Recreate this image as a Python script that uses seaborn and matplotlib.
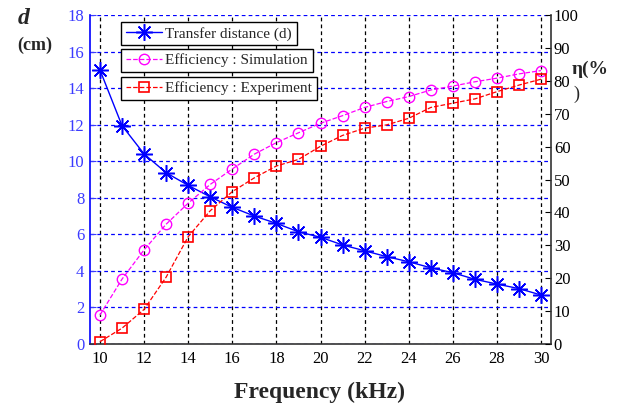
import pandas as pd
import seaborn as sns
import matplotlib.pyplot as plt

# data
freq = list(range(10, 31))
distance = [15.0, 11.95, 10.4, 9.37, 8.68, 8.05, 7.48, 7.0, 6.6, 6.14, 5.84,
            5.42, 5.1, 4.78, 4.5, 4.17, 3.9, 3.54, 3.28, 3.03, 2.68]
eff_sim = [8.8, 19.7, 28.6, 36.4, 42.8, 48.5, 53.2, 57.7, 61.2, 64.2, 67.1,
           69.4, 71.9, 73.7, 75.2, 77.2, 78.4, 79.7, 80.8, 82.1, 83.1]
eff_exp = [0.7, 4.8, 10.5, 20.3, 32.6, 40.5, 46.3, 50.5, 54.1, 56.1, 60.1,
           63.4, 65.6, 66.6, 68.6, 71.9, 73.2, 74.5, 76.7, 78.7, 80.5]
labels = ["Transfer distance (d)", "Efficiency : Simulation", "Efficiency : Experiment"]

df = pd.DataFrame({"freq": freq, "distance": distance, "sim": eff_sim, "exp": eff_exp})

sns.set_style("white")
plt.rcParams['font.family'] = ['Liberation Serif', 'DejaVu Serif']

fig = plt.figure(figsize=(6.23, 4.05), dpi=100)
ax = fig.add_axes([90 / 623, 61 / 405, 461 / 623, 329 / 405])
ax2 = ax.twinx()

blue = '#0000ff'
tick_blue = '#3b3bff'

sns.lineplot(data=df, x="freq", y="distance", ax=ax, color=blue, linewidth=1.0,
             marker=(8, 2, 0), markersize=12, markeredgewidth=1.1,
             markeredgecolor=blue, legend=False)
sns.lineplot(data=df, x="freq", y="sim", ax=ax2, color='#ff00ff', linewidth=0.9,
             linestyle='--', marker='o', markersize=7.5, markerfacecolor='none',
             markeredgecolor='#ff00ff', markeredgewidth=1.0, legend=False)
sns.lineplot(data=df, x="freq", y="exp", ax=ax2, color='#ff0000', linewidth=0.9,
             linestyle='--', marker='s', markersize=7.5, markerfacecolor='none',
             markeredgecolor='#ff0000', markeredgewidth=1.2, legend=False)

ax.set_xlim(9.55, 30.45)
ax.set_ylim(0, 18)
ax2.set_ylim(0, 100)
ax.set_xticks(range(10, 31, 2))
ax.set_yticks(range(0, 19, 2))
ax2.set_yticks(range(0, 101, 10))
ax.set_xlabel('')
ax.set_ylabel('')
ax2.set_ylabel('')

ax.set_axisbelow(True)
ax.grid(axis='y', color=blue, linestyle=(0, (3, 2.5)), linewidth=0.9)
ax.grid(axis='x', color='black', linestyle=(0, (3, 2.5)), linewidth=0.9)

ax.tick_params(axis='y', colors=tick_blue, direction='in', labelsize=12, length=4, pad=4)
ax.tick_params(axis='x', colors='black', direction='in', labelsize=12, length=4, pad=5)
ax2.tick_params(axis='y', colors='black', direction='in', labelsize=12, length=4, pad=2)

for s in ['top', 'right']:
    ax.spines[s].set_visible(False)
for s in ['top', 'left', 'bottom']:
    ax2.spines[s].set_visible(False)
ax.spines['left'].set_color(blue)
ax.spines['left'].set_linewidth(1.2)
ax.spines['bottom'].set_color('#333333')
ax.spines['bottom'].set_linewidth(1.2)
ax2.spines['right'].set_color('#333333')
ax2.spines['right'].set_linewidth(1.2)

# separate legend boxes, stacked like the original
handles = [ax.get_lines()[0], ax2.get_lines()[0], ax2.get_lines()[1]]
tops = [22, 49, 77]
for h, lab, top in zip(handles, labels, tops):
    fig.legend(handles=[h], labels=[lab], loc='upper left',
               bbox_to_anchor=(121 / 623, 1 - top / 405), frameon=True,
               fancybox=False, edgecolor='black', framealpha=1,
               borderpad=0.3, handlelength=2.4, handletextpad=0.2,
               borderaxespad=0, fontsize=11)

fig.text(320 / 623, 1 - 392 / 405, 'Frequency (kHz)', ha='center', va='center',
         fontsize=17, fontweight='bold')
fig.text(18 / 623, 1 - 19 / 405, 'd', ha='left', va='center', fontsize=17,
         fontweight='bold', fontstyle='italic')
fig.text(17 / 623, 1 - 45 / 405, '(cm)', ha='left', va='center', fontsize=13,
         fontweight='bold')
fig.text(572 / 623, 1 - 69 / 405, 'η(%', ha='left', va='center', fontsize=14,
         fontweight='bold')
fig.text(573 / 623, 1 - 94 / 405, ')', ha='left', va='center', fontsize=13)

fig.savefig('out.png', dpi=100)
